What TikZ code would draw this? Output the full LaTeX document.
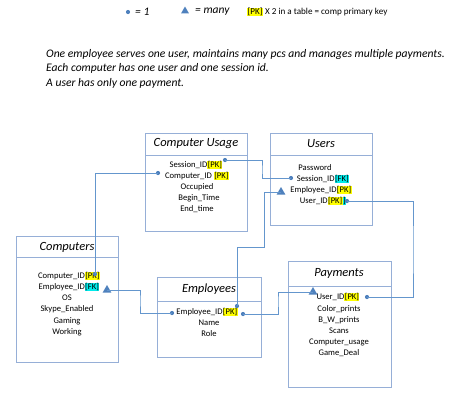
\documentclass[tikz,border=0pt]{standalone}
\usepackage{fontspec}
\setmainfont{Carlito}
\usetikzlibrary{shapes.geometric}
\definecolor{boxline}{RGB}{150,175,215}
\definecolor{connline}{RGB}{100,150,205}
\definecolor{dotc}{RGB}{79,129,189}
\definecolor{pkyel}{RGB}{255,255,0}
\definecolor{fkcyan}{RGB}{0,235,235}
\newcommand{\hlpk}{{\setlength{\fboxsep}{0.4pt}\colorbox{pkyel}{[PK]}}}
\newcommand{\hlfk}{{\setlength{\fboxsep}{0.4pt}\colorbox{fkcyan}{[FK]}}}
\newcommand{\hlbr}{{\setlength{\fboxsep}{0.4pt}\colorbox{fkcyan}{]}}}
\tikzset{
  tbl/.style={draw=boxline, line width=0.8pt},
  hdr/.style={font=\fontsize{12.5}{14}\selectfont\itshape, anchor=center, inner sep=0pt},
  fld/.style={font=\fontsize{8.6}{10}\selectfont, anchor=center, inner sep=0pt},
  conn/.style={draw=connline, line width=0.7pt},
  onedot/.style={circle, fill=dotc, inner sep=0pt, minimum size=4.2pt},
  many/.style={regular polygon, regular polygon sides=3, fill=dotc, inner sep=0pt, minimum size=10pt},
  note/.style={font=\fontsize{11.6}{13}\selectfont\itshape, anchor=west, inner sep=0pt},
}
\begin{document}
\begin{tikzpicture}[x=1pt, y=-1pt]
\useasboundingbox (0,0) rectangle (474,400);
% legend
\node[onedot] (ld) at (128,12) {};
\node[note, font=\fontsize{11.5}{13}\selectfont\itshape] (l1) at (135,12) {= 1};
\node[many, minimum size=9pt] (lt) at (185,11) {};
\node[note, font=\fontsize{11.5}{13}\selectfont\itshape] (l2) at (195,12) {= many};
\node[fld, anchor=west, font=\fontsize{9.1}{10}\selectfont] (l3) at (247,12) {\hlpk{} X 2 in a table = comp primary key};
% notes
\node[note] (n1) at (46,54) {One employee serves one user, maintains many pcs and manages multiple payments.};
\node[note] (n2) at (46,68.5) {Each computer has one user and one session id.};
\node[note] (n3) at (46,83) {A user has only one payment.};
% Computer Usage
\draw[tbl] (145,133) rectangle (247,231); \draw[tbl] (145,155) -- (247,155);
\node[hdr] (hcu) at (196,144) {Computer Usage};
\node[fld] (cu1) at (196,165) {Session\_ID\hlpk};
\node[fld] (cu2) at (197,176) {Computer\_ID \hlpk};
\node[fld] (cu3) at (197,187) {Occupied};
\node[fld] (cu4) at (199,198) {Begin\_Time};
\node[fld] (cu5) at (197,209) {End\_time};
% Users
\draw[tbl] (270,133) rectangle (372,225); \draw[tbl] (270,155) -- (372,155);
\node[hdr] (hus) at (321,144) {Users};
\node[fld] (us1) at (315,168) {Password};
\node[fld] (us2) at (323,179) {Session\_ID\hlfk};
\node[fld] (us3) at (321,190) {Employee\_ID\hlpk};
\node[fld] (us4) at (323,201) {User\_ID\hlpk\hlbr};
% Computers
\draw[tbl] (16,236) rectangle (118,362); \draw[tbl] (16,257) -- (118,257);
\node[hdr] (hco) at (67,247) {Computers};
\node[fld] (co1) at (69,276) {Computer\_ID\hlpk};
\node[fld] (co2) at (69,287) {Employee\_ID\hlfk};
\node[fld] (co3) at (67,298) {OS};
\node[fld] (co4) at (67,309) {Skype\_Enabled};
\node[fld] (co5) at (67,321) {Gaming};
\node[fld] (co6) at (67,332) {Working};
% Employees
\draw[tbl] (157,277) rectangle (261,357); \draw[tbl] (157,301) -- (261,301);
\node[hdr] (hem) at (209,289) {Employees};
\node[fld] (em1) at (207,312) {Employee\_ID\hlpk};
\node[fld] (em2) at (209,323) {Name};
\node[fld] (em3) at (209,334) {Role};
% Payments
\draw[tbl] (288,261) rectangle (391,387); \draw[tbl] (288,286) -- (391,286);
\node[hdr] (hpa) at (339,273) {Payments};
\node[fld] (pa1) at (338,297) {User\_ID\hlpk};
\node[fld] (pa2) at (339,309) {Color\_prints};
\node[fld] (pa3) at (339,320) {B\_W\_prints};
\node[fld] (pa4) at (339,331) {Scans};
\node[fld] (pa5) at (339,342) {Computer\_usage};
\node[fld] (pa6) at (339,353) {Game\_Deal};
% markers
\node[onedot] (d1) at (95,274) {};
\node[onedot] (d2) at (158,173) {};
\node[onedot] (d3) at (225,160) {};
\node[onedot] (d4) at (291,178) {};
\node[onedot] (d5) at (237,306) {};
\node[onedot] (d6) at (347,201) {};
\node[onedot] (d7) at (367,297) {};
\node[onedot] (d8) at (243,314) {};
\node[onedot] (d9) at (172,313) {};
\node[many] (t1) at (281,192) {};
\node[many] (t2) at (313,292) {};
\node[many] (t3) at (107,290) {};
\coordinate (c2) at (262,170);
\coordinate (c3) at (264,247);
\coordinate (c4) at (413,250);
\coordinate (c5) at (278,300);
\coordinate (c6) at (140,300);
% connectors
\draw[conn] (d1.center) |- (d2.center);
\draw[conn] (d3.center) -| (c2) |- (d4.center);
\draw[conn] (t1.center) -| (c3) -| (d5.center);
\draw[conn] (d6.center) -| (c4) |- (d7.center);
\draw[conn] (d8.center) -| (c5) |- (t2.center);
\draw[conn] (t3.center) -| (c6) |- (d9.center);
\end{tikzpicture}
\end{document}
